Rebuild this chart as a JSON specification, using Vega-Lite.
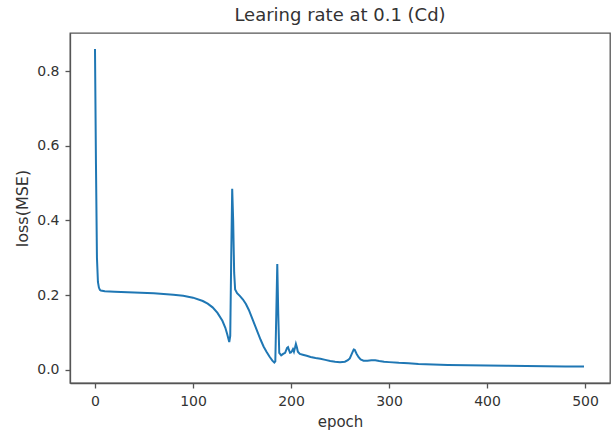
{
  "$schema": "https://vega.github.io/schema/vega-lite/v6.json",
  "width": 540,
  "height": 350,
  "autosize": "none",
  "padding": {"left": 70, "top": 33, "right": 3, "bottom": 51},
  "background": "white",
  "title": {"text": "Learing rate at 0.1 (Cd)", "font": "DejaVu Sans", "fontSize": 18, "fontWeight": "normal", "color": "#333", "offset": 8},
  "config": {
    "view": {"stroke": "#555", "strokeWidth": 1.3},
    "axis": {"grid": false, "domainColor": "#555", "domainWidth": 1.3, "tickColor": "#555", "tickWidth": 1.3, "tickSize": 5, "labelPadding": 6, "labelFont": "DejaVu Sans", "labelFontSize": 14, "labelColor": "#333", "titleFont": "DejaVu Sans", "titleFontWeight": "normal", "titleColor": "#333"}
  },
  "data": {"values": [
    {"epoch": 0, "loss": 0.860}, {"epoch": 1, "loss": 0.55}, {"epoch": 2, "loss": 0.30}, {"epoch": 3, "loss": 0.235},
    {"epoch": 4, "loss": 0.220}, {"epoch": 5, "loss": 0.214}, {"epoch": 6, "loss": 0.212}, {"epoch": 10, "loss": 0.210},
    {"epoch": 20, "loss": 0.209}, {"epoch": 40, "loss": 0.207}, {"epoch": 60, "loss": 0.205}, {"epoch": 80, "loss": 0.201},
    {"epoch": 90, "loss": 0.198}, {"epoch": 100, "loss": 0.193}, {"epoch": 110, "loss": 0.184}, {"epoch": 115, "loss": 0.177},
    {"epoch": 120, "loss": 0.167}, {"epoch": 125, "loss": 0.152}, {"epoch": 130, "loss": 0.131}, {"epoch": 133, "loss": 0.112},
    {"epoch": 135, "loss": 0.094}, {"epoch": 137, "loss": 0.074}, {"epoch": 138, "loss": 0.09}, {"epoch": 139, "loss": 0.30},
    {"epoch": 140, "loss": 0.485}, {"epoch": 141, "loss": 0.40}, {"epoch": 142, "loss": 0.26}, {"epoch": 143, "loss": 0.215},
    {"epoch": 145, "loss": 0.205}, {"epoch": 148, "loss": 0.197}, {"epoch": 151, "loss": 0.188}, {"epoch": 154, "loss": 0.176},
    {"epoch": 157, "loss": 0.160}, {"epoch": 160, "loss": 0.140}, {"epoch": 163, "loss": 0.120}, {"epoch": 166, "loss": 0.100},
    {"epoch": 169, "loss": 0.080}, {"epoch": 172, "loss": 0.062}, {"epoch": 175, "loss": 0.048}, {"epoch": 178, "loss": 0.035},
    {"epoch": 181, "loss": 0.024}, {"epoch": 183, "loss": 0.019}, {"epoch": 184, "loss": 0.022}, {"epoch": 185, "loss": 0.15},
    {"epoch": 186, "loss": 0.283}, {"epoch": 187, "loss": 0.15}, {"epoch": 188, "loss": 0.045}, {"epoch": 190, "loss": 0.038},
    {"epoch": 192, "loss": 0.042}, {"epoch": 194, "loss": 0.045}, {"epoch": 196, "loss": 0.058}, {"epoch": 197, "loss": 0.060},
    {"epoch": 198, "loss": 0.052}, {"epoch": 199, "loss": 0.045}, {"epoch": 200, "loss": 0.046}, {"epoch": 201, "loss": 0.050},
    {"epoch": 202, "loss": 0.055}, {"epoch": 203, "loss": 0.048}, {"epoch": 204, "loss": 0.058}, {"epoch": 205, "loss": 0.069},
    {"epoch": 206, "loss": 0.060}, {"epoch": 207, "loss": 0.048}, {"epoch": 209, "loss": 0.042}, {"epoch": 212, "loss": 0.040},
    {"epoch": 216, "loss": 0.037}, {"epoch": 220, "loss": 0.034}, {"epoch": 225, "loss": 0.031}, {"epoch": 230, "loss": 0.029},
    {"epoch": 235, "loss": 0.026}, {"epoch": 240, "loss": 0.023}, {"epoch": 245, "loss": 0.021}, {"epoch": 250, "loss": 0.020},
    {"epoch": 255, "loss": 0.021}, {"epoch": 258, "loss": 0.025}, {"epoch": 260, "loss": 0.030}, {"epoch": 262, "loss": 0.042},
    {"epoch": 264, "loss": 0.054}, {"epoch": 265, "loss": 0.053}, {"epoch": 267, "loss": 0.042}, {"epoch": 269, "loss": 0.033},
    {"epoch": 271, "loss": 0.027}, {"epoch": 274, "loss": 0.024}, {"epoch": 278, "loss": 0.024}, {"epoch": 282, "loss": 0.025},
    {"epoch": 286, "loss": 0.025}, {"epoch": 290, "loss": 0.023}, {"epoch": 295, "loss": 0.021}, {"epoch": 300, "loss": 0.020},
    {"epoch": 310, "loss": 0.018}, {"epoch": 320, "loss": 0.017}, {"epoch": 330, "loss": 0.015}, {"epoch": 345, "loss": 0.0135},
    {"epoch": 360, "loss": 0.0125}, {"epoch": 380, "loss": 0.0118}, {"epoch": 400, "loss": 0.011}, {"epoch": 420, "loss": 0.0105},
    {"epoch": 440, "loss": 0.0095}, {"epoch": 460, "loss": 0.009}, {"epoch": 480, "loss": 0.0085}, {"epoch": 499, "loss": 0.008}
  ]},
  "mark": {"type": "line", "color": "#1f77b4", "strokeWidth": 2, "clip": true},
  "encoding": {
    "x": {"field": "epoch", "type": "quantitative", "scale": {"domain": [-25.5, 525.5], "nice": false, "zero": false},
      "axis": {"values": [0, 100, 200, 300, 400, 500], "title": "epoch", "titleFontSize": 15, "titlePadding": 6}},
    "y": {"field": "loss", "type": "quantitative", "scale": {"domain": [-0.036, 0.903], "nice": false, "zero": false},
      "axis": {"values": [0, 0.2, 0.4, 0.6, 0.8], "format": ".1f", "title": "loss(MSE)", "titleFontSize": 16, "titlePadding": 6}}
  }
}
